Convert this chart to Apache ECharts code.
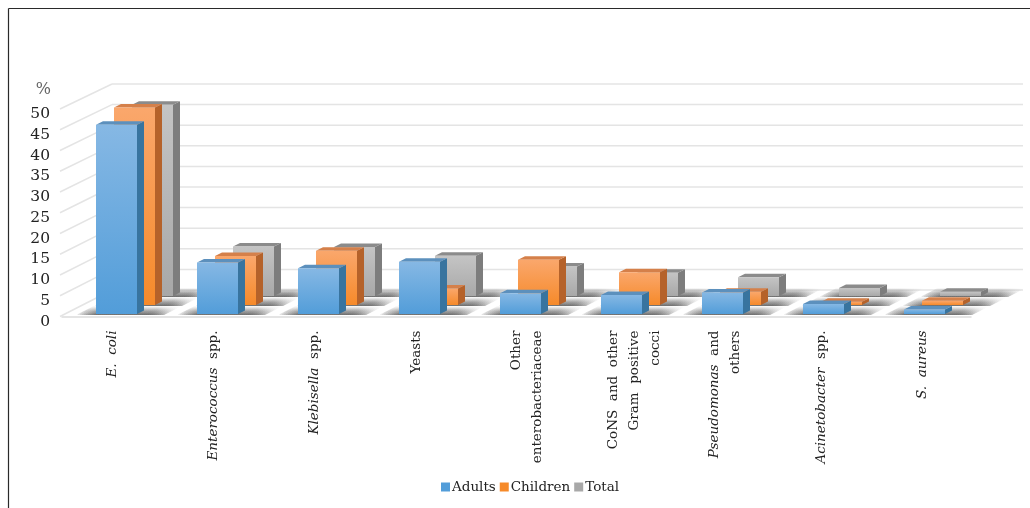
<!DOCTYPE html>
<html>
<head>
<meta charset="utf-8">
<style>html,body{margin:0;padding:0;background:#fff}#chart{width:1030px;height:508px}</style>
<script src="https://cdn.jsdelivr.net/npm/echarts@6/dist/echarts.min.js"></script>
</head>
<body>
<div id="chart"></div>
<script>
// Pathogen shares (%) by patient group
const categories = [
  '{i|E.}  {i|coli}',
  '{i|Enterococcus}  spp.',
  '{i|Klebisella}  spp.',
  'Yeasts',
  'Other\nenterobacteriaceae',
  'CoNS  and  other\nGram  positive\ncocci',
  '{i|Pseudomonas}  and\nothers',
  '{i|Acinetobacter}  spp.',
  '{i|S.}  {i|aureus}'
];
const adults   = [45.6, 12.4, 11.0, 12.6, 5.0, 4.6, 5.2, 2.4, 1.1];
const children = [47.6, 11.8, 13.1, 4.0, 10.9, 7.9, 3.2, 0.8, 1.0];
const total    = [46.1, 11.9, 11.8, 9.7, 7.1, 5.6, 4.5, 1.9, 1.0];
const valueTicks = [0, 5, 10, 15, 20, 25, 30, 35, 40, 45, 50];

// Pseudo-3D projection: pixels per depth row and wall offset
const ROW_DX = 18, ROW_DY = 9;
const FIRST_DX = 34, FIRST_DY = 2.5;
const BAR_W = 41, BAR_DX = 7, BAR_DY = 3.5;
const WALL_DX = 52, WALL_DY = 26.5;
const labelShift = [0, 0, 0, 2, 20, 34, 12, 4, 3];

const palette = [
  { hi: '#86b8e4', lo: '#529dd9', side: '#38749f', cap: '#5c90bd' },
  { hi: '#faa76c', lo: '#f68a2a', side: '#b5622a', cap: '#d5804a' },
  { hi: '#c4c4c4', lo: '#a8a8a8', side: '#7d7d7d', cap: '#8b8b8b' }
];

const poly = (points, fill) => ({
  type: 'polygon', silent: true,
  shape: { points },
  style: { fill, stroke: null }
});

// Front, side and cap faces of one bar; each group sits one row further back
function barRenderer(row) {
  const c = palette[row];
  return function (params, api) {
    const cat = api.value(0);
    const base = api.coord([cat, 0]);
    const top = api.coord([cat, api.value(1)]);
    const step = api.size([1, 0])[0];
    const x0 = base[0] - step / 2 + FIRST_DX + row * ROW_DX;
    const x1 = x0 + BAR_W;
    const yB = base[1] - FIRST_DY - row * ROW_DY;
    const yT = top[1] - FIRST_DY - row * ROW_DY;
    const front = new echarts.graphic.LinearGradient(0, 0, 0, 1, [
      { offset: 0, color: c.hi }, { offset: 1, color: c.lo }
    ]);
    return {
      type: 'group',
      children: [
        poly([[x1, yT], [x1 + BAR_DX, yT - BAR_DY], [x1 + BAR_DX, yB - BAR_DY], [x1, yB]], c.side),
        poly([[x0, yT], [x0 + BAR_DX, yT - BAR_DY], [x1 + BAR_DX, yT - BAR_DY], [x1, yT]], c.cap),
        poly([[x0, yT], [x1, yT], [x1, yB], [x0, yB]], front)
      ]
    };
  };
}

// Soft contact shadows on the floor: stacked skewed layers sharing a front edge,
// so darkness builds up toward the base of each bar and fades sideways
function shadowRenderer(params, api) {
  const cat = api.value(0);
  const base = api.coord([cat, 0]);
  const step = api.size([1, 0])[0];
  const layers = [0.1, 0.1, 0.12, 0.12, 0.14, 0.14, 0.16, 0.18];
  const children = [];
  for (let row = 2; row >= 0; row--) {
    const x0 = base[0] - step / 2 + FIRST_DX + row * ROW_DX;
    const yB = base[1] - FIRST_DY - row * ROW_DY + 1;
    const left = x0 - 20, right = x0 + BAR_W + BAR_DX + 20;
    layers.forEach((a, j) => {
      const depth = (layers.length - j) * 1.05;
      const skew = depth * 2;
      const g = new echarts.graphic.LinearGradient(0, 0, 1, 0, [
        { offset: 0, color: 'rgba(50,50,50,0)' },
        { offset: 0.22, color: `rgba(50,50,50,${a})` },
        { offset: 0.78, color: `rgba(50,50,50,${a})` },
        { offset: 1, color: 'rgba(50,50,50,0)' }
      ]);
      children.push(poly([[left, yB], [right, yB], [right + skew, yB - depth], [left + skew, yB - depth]], g));
    });
  }
  return { type: 'group', children };
}

// Back-wall and side-wall gridlines plus the back floor edge
function wallRenderer(params, api) {
  const v = api.value(1);
  const step = api.size([1, 0])[0];
  const a = api.coord([0, v]);
  const b = api.coord([categories.length - 1, v]);
  const xL = a[0] - step / 2, xR = b[0] + step / 2;
  const yBack = a[1] - WALL_DY + v * 0.03;
  const line = (x1, y1, x2, y2) => ({
    type: 'line', silent: true,
    shape: { x1, y1, x2, y2 },
    style: { stroke: '#e4e4e4', lineWidth: 1.5 }
  });
  return {
    type: 'group',
    children: [
      line(xL - 2, a[1], xL + WALL_DX - 2, yBack),
      line(xL + WALL_DX - 2, yBack, xR + WALL_DX, yBack)
    ]
  };
}

const barSeries = (name, values, row) => ({
  name,
  type: 'custom',
  coordinateSystem: 'cartesian2d',
  z: 5 - row,
  silent: true,
  renderItem: barRenderer(row),
  encode: { x: 0, y: 1 },
  itemStyle: { color: palette[row].lo },
  data: values.map((v, i) => [i, v])
});

const chart = echarts.init(document.getElementById('chart'), null, { renderer: 'canvas' });
chart.setOption({
  animation: false,
  backgroundColor: '#ffffff',
  textStyle: { fontFamily: '"DejaVu Serif"' },
  grid: { left: 62, right: 59, top: 109, bottom: 191.5, containLabel: false },
  legend: {
    data: ['Adults', 'Children', 'Total'],
    left: 436, top: 475,
    icon: 'rect', itemWidth: 9, itemHeight: 9, itemGap: 4,
    textStyle: { fontFamily: '"DejaVu Serif"', fontSize: 13.5, color: '#222', padding: [0, 0, 0, -3] }
  },
  xAxis: {
    type: 'category',
    data: categories.map((value, i) => ({ value, textStyle: { padding: [labelShift[i], 0, 0, 0] } })),
    axisTick: { show: false },
    axisLine: { show: true, lineStyle: { color: '#dcdcdc', width: 1.5 } },
    axisLabel: {
      interval: 0, rotate: 90, margin: 14,
      fontFamily: '"DejaVu Serif"', fontSize: 13.5, color: '#222', lineHeight: 21,
      rich: { i: { fontStyle: 'italic', fontFamily: '"DejaVu Serif"', fontSize: 13.5, color: '#222' } }
    }
  },
  yAxis: {
    type: 'value', min: 0, max: 50, interval: 5,
    name: '%', nameLocation: 'end', nameGap: 11,
    nameTextStyle: { fontFamily: '"DejaVu Serif"', fontSize: 16, color: '#666', align: 'right', padding: [0, 11, 0, 0] },
    axisLine: { show: false }, axisTick: { show: false }, splitLine: { show: false },
    axisLabel: { margin: 12, fontFamily: '"DejaVu Serif"', fontSize: 15.5, color: '#222', verticalAlign: 'top', lineHeight: 10 }
  },
  graphic: [
    { type: 'line', silent: true, shape: { x1: 8.5, y1: 8.5, x2: 1030, y2: 8.5 }, style: { stroke: '#2a2a2a', lineWidth: 1.2 } },
    { type: 'line', silent: true, shape: { x1: 8.5, y1: 8.5, x2: 8.5, y2: 508 }, style: { stroke: '#2a2a2a', lineWidth: 1.2 } }
  ],
  series: [
    { type: 'custom', name: 'walls', z: 1, silent: true, coordinateSystem: 'cartesian2d',
      renderItem: wallRenderer, encode: { x: 0, y: 1 }, data: valueTicks.map(v => [0, v]) },
    { type: 'custom', name: 'floor', z: 2, silent: true, coordinateSystem: 'cartesian2d',
      renderItem: shadowRenderer, encode: { x: 0 }, data: categories.map((_, i) => [i]) },
    barSeries('Adults', adults, 0),
    barSeries('Children', children, 1),
    barSeries('Total', total, 2)
  ]
});
</script>
</body>
</html>
